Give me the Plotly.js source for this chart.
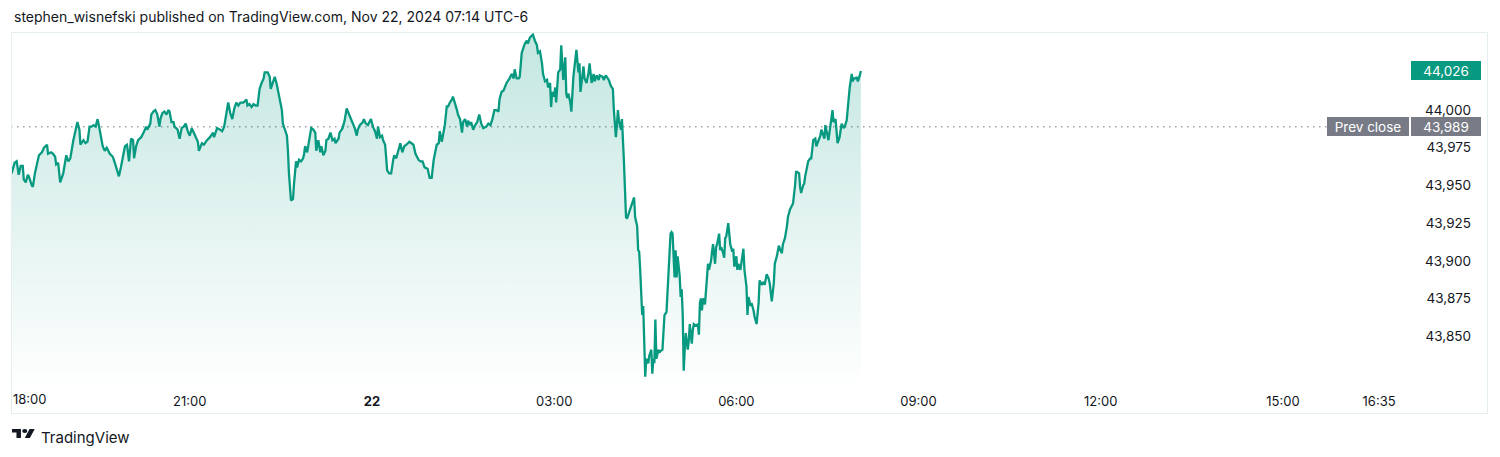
<!DOCTYPE html>
<html>
<head>
<meta charset="utf-8">
<script src="https://cdn.plot.ly/plotly-3.0.1.min.js"></script>
<style>
  html, body { margin: 0; padding: 0; background: #ffffff; }
  #chart { width: 1500px; height: 457px; }
</style>
</head>
<body>
<div id="chart"></div>
<script>
// Time of each point, in minutes since 18:00 (Nov 21) — session runs to next day
const minutesSince1800 = [
  4,7,9,11,13,15,16,18,20,21,
  24,25,27,29,31,34,36,39,40,43,
  45,47,48,50,52,55,58,60,62,65,
  68,69,71,72,75,77,79,81,83,85,
  87,89,91,94,96,98,101,104,106,108,
  110,112,114,116,118,119,120,122,124,125,
  127,129,132,135,137,138,141,142,144,146,
  148,150,151,153,155,157,159,160,162,164,
  165,168,170,172,174,176,178,180,182,184,
  186,188,189,192,194,197,200,203,204,207,
  210,
  212,214,216,218,220,222,224,226,228,230,
  231,233,236,237,239,241,243,245,247,249,
  251,253,254,257,259,260,262,264,266,268,
  269,271,272,274,276,277,278,280,282,283,
  285,286,288,290,292,293,294,296,297,299,
  300,302,304,305,307,309,310,312,314,315,
  317,319,321,323,324,327,328,331,333,335,
  337,338,341,343,345,346,348,351,352,354,
  356,359,361,363,365,366,368,370,371,373,
  374,375,377,379,381,382,384,386,388,390,
  392,394,397,399,401,403,406,408,410,412,
  415,417,
  419,421,422,424,426,427,429,430,432,434,
  435,437,439,440,442,444,445,447,449,450,
  452,454,455,457,458,460,462,464,466,468,
  470,473,475,477,479,481,483,485,486,488,
  490,491,493,495,496,498,500,501,503,505,
  506,508,509,511,513,514,516,518,519,521,
  523,524,526,528,529,531,533,534,536,537,
  538,540,541,542,544,546,547,549,551,552,
  553,554,556,557,559,561,562,564,565,566,
  567,569,570,572,574,575,577,579,580,582,
  584,
  585,588,589,591,593,594,596,598,599,600,
  601,602,603,604,606,607,608,609,610,611,
  612,614,615,617,618,619,620,621,622,623,
  624,625,626,627,628,629,630,631,633,634,
  635,636,637,638,639,640,641,643,644,645,
  647,648,649,651,652,653,654,655,656,657,
  658,659,660,661,662,663,664,665,666,667,
  668,669,670,672,673,674,676,677,678,680,
  682,683,684,685,686,687,689,691,692,693,
  695,696,697,699,700,701,703,704,705,707,
  708,709,710,712,713,714,716,717,718,720,
  721,722,724,725,727,728,730,731,732,734,
  735,737,738,740,742,743,745,747,748,750,
  752,753,755,757,758,760,762,763,765,766,
  768,770,771,773,775,776,778,779,780,782,
  783,784,786,787,788,790,791,793,794,796,
  798,799,801,803,804,805,807,808,809,811,
  812,813,815,816,818,819,820,822,823,824,
  826,827,829,831,832,834,835,836,838,839,
  840,842,843
];

const prices = [
  43958,43965,43966,43957,43963,43963,43954,43952,43957,43956,
  43950,43949,43958,43965,43970,43972,43975,43977,43971,43972,
  43971,43969,43964,43965,43952,43958,43970,43966,43968,43980,
  43990,43992,43987,43977,43980,43978,43979,43989,43989,43990,
  43989,43994,43987,43976,43973,43975,43971,43969,43965,43960,
  43956,43962,43970,43976,43977,43969,43966,43981,43980,43968,
  43976,43980,43982,43986,43989,43987,43991,43997,43999,44000,
  43997,43989,43994,43998,43999,43997,44000,43999,43992,43992,
  43989,43987,43981,43988,43989,43991,43986,43983,43988,43985,
  43982,43979,43973,43978,43977,43980,43982,43985,43982,43988,
  43987,
  43986,43989,43996,44005,43998,43994,44001,44005,44003,44005,
  44005,44005,44007,44003,44004,44002,44004,44003,44003,44014,
  44018,44021,44025,44025,44022,44014,44018,44022,44017,44011,
  44008,44000,43991,43987,43983,43973,43958,43940,43941,43951,
  43966,43962,43967,43966,43968,43971,43976,43972,43976,43985,
  43988,43987,43985,43973,43980,43972,43976,43970,43973,43980,
  43981,43985,43980,43981,43978,43981,43985,43988,43993,44001,
  43998,43996,43992,43988,43983,43987,43990,43992,43994,43991,
  43990,43994,43989,43986,43981,43989,43982,43983,43980,43977,
  43969,43960,43958,43958,43967,43970,43968,43973,43978,43972,
  43976,43977,43979,43978,43977,43971,43967,43966,43966,43962,
  43961,43955,
  43955,43967,43970,43977,43978,43986,43979,43982,43990,44003,
  44002,44005,44007,44009,44005,44000,43997,43994,43985,43992,
  43994,43989,43993,43990,43992,43987,43990,43992,43997,43991,
  43988,43989,43991,43990,43994,44000,44000,43999,44007,44012,
  44013,44015,44018,44020,44021,44024,44021,44027,44021,44021,
  44022,44038,44040,44044,44046,44044,44048,44049,44050,44046,
  44043,44038,44039,44031,44024,44019,44020,44015,44018,44002,
  44012,44009,44015,44005,44025,44027,44043,44020,44035,44011,
  44008,44011,44005,43999,44022,44034,44040,44025,44031,44012,
  44019,44029,44021,44018,44025,44031,44018,44024,44019,44023,
  44020,
  44023,44022,44020,44023,44021,44020,44016,44014,44000,43993,
  43982,43990,44000,43993,43987,43994,43982,43965,43947,43929,
  43928,43932,43934,43938,43939,43942,43929,43925,43923,43907,
  43906,43894,43872,43864,43870,43850,43823,43835,43832,43837,
  43839,43841,43825,43835,43832,43861,43835,43841,43839,43840,
  43841,43852,43864,43866,43881,43898,43909,43918,43919,43918,
  43903,43889,43907,43889,43903,43896,43890,43876,43881,43865,
  43827,43841,43852,43841,43847,43858,43845,43854,43858,43857,
  43858,43851,43872,43875,43867,43875,43871,43889,43898,43894,
  43900,43906,43911,43898,43909,43911,43918,43907,43909,43905,
  43902,43915,43916,43925,43915,43911,43906,43908,43896,43903,
  43894,43898,43894,43900,43908,43894,43883,43864,43876,43870,
  43872,43867,43863,43858,43872,43887,43884,43886,43884,43891,
  43888,43885,43873,43885,43898,43903,43910,43908,43905,43911,
  43915,43923,43929,43934,43937,43938,43950,43959,43959,43958,
  43949,43945,43950,43951,43956,43962,43966,43968,43968,43980,
  43981,43976,43980,43983,43987,43985,43981,43990,43987,43980,
  43985,43991,44000,43992,43994,43986,43978,43982,43989,43991,
  43988,43989,43993,44009,44015,44024,44019,44021,44021,44022,
  44019,44023,44026
];

const lastPrice = 44026;
const prevClose = 43989;

// Time axis ticks (minutes since 18:00) and their labels
const timeTickMinutes = [180, 360, 540, 720, 900, 1080, 1260, 1355];
const timeTickLabels = ['21:00', '<b>22</b>', '03:00', '06:00', '09:00', '12:00', '15:00', '16:35'];
const firstTimeLabel = '18:00';

// Price axis ticks
const priceTicks = [43850, 43875, 43900, 43925, 43950, 43975, 44000];
const priceTickLabels = ['43,850', '43,875', '43,900', '43,925', '43,950', '43,975', '44,000'];

const headerText = 'stephen_wisnefski published on TradingView.com, Nov 22, 2024 07:14 UTC-6';
const brandText = 'TradingView';

const fmt = v => v.toLocaleString('en-US');

const FONT = 'Inter, "Noto Sans", Roboto, sans-serif';
const TEXT = '#131722';
const GREEN = '#089981';
const GREY = '#787b86';

// layout geometry (pixels)
const W = 1500, H = 457;
const M = { l: 11, r: 12, t: 32, b: 71 };
const plotW = W - M.l - M.r;
const plotH = H - M.t - M.b;
const px = x => (x - M.l) / plotW;          // page x -> paper x
const py = y => (H - M.b - y) / plotH;      // page y -> paper y

const logoSvg = '<svg xmlns="http://www.w3.org/2000/svg" viewBox="0 4 36 18" preserveAspectRatio="none">' +
  '<path fill="#131722" d="M14 22H7V11H0V4h14v18zM28 22h-8l7.5-18h8L28 22z"/>' +
  '<circle fill="#131722" cx="20" cy="8" r="4"/></svg>';
const logoUri = 'data:image/svg+xml;base64,' + btoa(logoSvg);

const trace = {
  type: 'scatter',
  mode: 'lines',
  x: minutesSince1800,
  y: prices,
  line: { color: GREEN, width: 2.3 },
  fill: 'tozeroy',
  fillgradient: {
    type: 'vertical',
    start: 43815,
    stop: 44050,
    colorscale: [[0, 'rgba(8,153,129,0.0)'], [1, 'rgba(8,153,129,0.24)']]
  },
  hoverinfo: 'skip'
};

const layout = {
  width: W,
  height: H,
  margin: M,
  paper_bgcolor: '#ffffff',
  plot_bgcolor: '#ffffff',
  showlegend: false,
  font: { family: FONT, color: TEXT, size: 13 },
  xaxis: {
    range: [3.4, 1462.6],
    showgrid: false,
    zeroline: false,
    showline: false,
    ticks: '',
    tickvals: timeTickMinutes,
    ticktext: timeTickLabels,
    tickfont: { family: FONT, size: 13, color: TEXT },
    ticklabelstandoff: 6,
    fixedrange: true
  },
  yaxis: {
    range: [43816.9, 44051.8],
    side: 'right',
    ticklabelposition: 'inside',
    showgrid: false,
    zeroline: false,
    showline: false,
    ticks: '',
    tickvals: priceTicks,
    ticktext: priceTickLabels,
    tickfont: { family: FONT, size: 13.5, color: TEXT },
    ticklabelstandoff: 14,
    fixedrange: true
  },
  shapes: [
    // outer chart frame
    { type: 'rect', xref: 'paper', yref: 'paper', x0: px(11.5), x1: px(1487.5), y0: py(413.5), y1: py(32.5),
      line: { color: '#e4eeed', width: 1 }, fillcolor: 'rgba(0,0,0,0)', layer: 'above' },
    // previous close dotted line
    { type: 'line', xref: 'paper', yref: 'y', x0: 0, x1: px(1327), y0: prevClose, y1: prevClose,
      line: { color: '#9da0a8', width: 1.5, dash: '1.5px,4.5px' }, layer: 'below' }
  ],
  images: [
    { source: logoUri, xref: 'paper', yref: 'paper', x: px(12), y: py(429), sizex: 23 / plotW, sizey: 9 / plotH,
      xanchor: 'left', yanchor: 'top', sizing: 'stretch', layer: 'above' }
  ],
  annotations: [
    { xref: 'paper', yref: 'paper', x: px(12), y: py(17), xanchor: 'left', yanchor: 'middle',
      text: headerText, showarrow: false, font: { family: FONT, size: 14, color: TEXT } },
    { xref: 'paper', yref: 'paper', x: px(39), y: py(437), xanchor: 'left', yanchor: 'middle',
      text: brandText, showarrow: false, font: { family: FONT, size: 15, color: TEXT } },
    { xref: 'paper', yref: 'paper', x: px(11), y: py(399), xanchor: 'left', yanchor: 'middle',
      text: firstTimeLabel, showarrow: false, font: { family: FONT, size: 13, color: TEXT } },
    // last price label
    { xref: 'paper', yref: 'y', x: px(1481), y: lastPrice, xanchor: 'right', yanchor: 'middle',
      text: fmt(lastPrice), showarrow: false, bgcolor: GREEN, borderwidth: 0, borderpad: 2,
      width: 66, height: 15, align: 'center', font: { family: FONT, size: 13.5, color: '#ffffff' } },
    // previous close labels
    { xref: 'paper', yref: 'y', x: px(1409), y: prevClose, xanchor: 'right', yanchor: 'middle',
      text: 'Prev close', showarrow: false, bgcolor: GREY, borderwidth: 0, borderpad: 2,
      width: 78, height: 15, align: 'center', font: { family: FONT, size: 13.5, color: '#ffffff' } },
    { xref: 'paper', yref: 'y', x: px(1481), y: prevClose, xanchor: 'right', yanchor: 'middle',
      text: fmt(prevClose), showarrow: false, bgcolor: GREY, borderwidth: 0, borderpad: 2,
      width: 66, height: 15, align: 'center', font: { family: FONT, size: 13.5, color: '#ffffff' } }
  ]
};

Plotly.newPlot('chart', [trace], layout, { staticPlot: true, displayModeBar: false });
</script>
</body>
</html>
